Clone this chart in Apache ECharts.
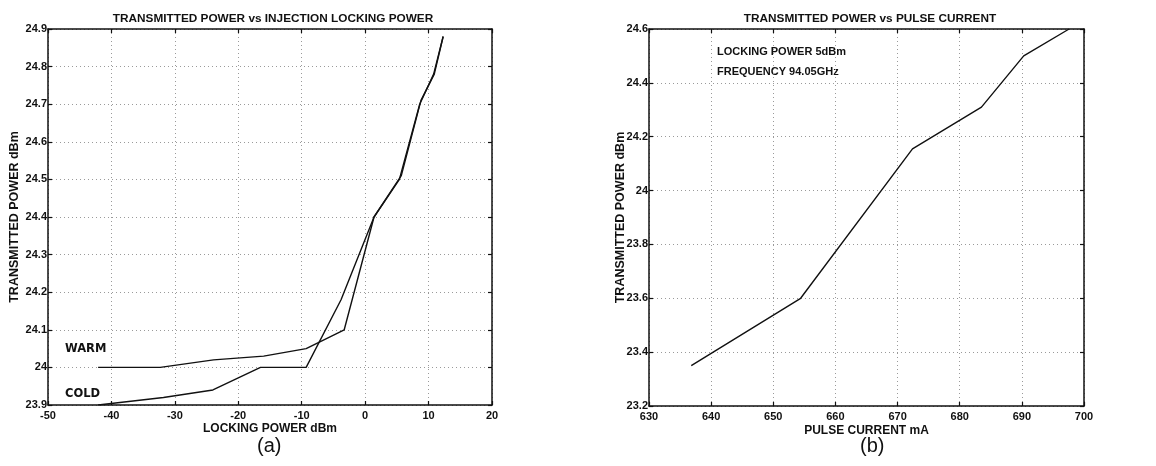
<!DOCTYPE html>
<html>
<head>
<meta charset="utf-8">
<title>Transmitted power</title>
<script src="https://cdn.jsdelivr.net/npm/echarts@6/dist/echarts.min.js"></script>
<style>
  html, body { margin: 0; padding: 0; background: #fff; }
  #chart { width: 1156px; height: 466px; }
</style>
</head>
<body>
<div id="chart"></div>
<script>
// (a) transmitted power vs injection locking power, warm and cold
const lockingPowerWarm = [-42.1, -32.3, -23.9, -16.0, -9.3, -3.3, 1.4, 5.4, 8.6, 10.8, 12.3];
const transPowerWarm   = [24.00, 24.00, 24.02, 24.03, 24.05, 24.10, 24.40, 24.50, 24.70, 24.78, 24.88];
const lockingPowerCold = [-42.1, -31.8, -24.0, -16.5, -9.3, -3.8, 1.4, 5.7, 8.8, 10.9, 12.3];
const transPowerCold   = [23.90, 23.92, 23.94, 24.00, 24.00, 24.18, 24.40, 24.51, 24.71, 24.78, 24.88];

// (b) transmitted power vs pulse current
const pulseCurrent    = [636.8, 654.4, 672.4, 683.5, 690.3, 697.6];
const transPowerPulse = [23.35, 23.60, 24.155, 24.31, 24.50, 24.60];

const titleA = 'TRANSMITTED POWER vs INJECTION LOCKING POWER';
const titleB = 'TRANSMITTED POWER vs PULSE CURRENT';
const yName = 'TRANSMITTED POWER dBm';
const xNameA = 'LOCKING POWER dBm';
const xNameB = 'PULSE CURRENT mA';
const notesB = ['LOCKING POWER 5dBm', 'FREQUENCY 94.05GHz'];
const curveNames = ['WARM', 'COLD'];
const panelNames = ['(a)', '(b)'];

const FONT = '"Liberation Sans", Arial, sans-serif';
const WIDE = '"DejaVu Sans", sans-serif';
const ink = '#111';

function zip(xs, ys) { return xs.map((x, i) => [x, ys[i]]); }

const tickLabel = (margin) => ({ color: ink, fontFamily: FONT, fontWeight: 'bold', fontSize: 11, margin });

function mainAxis(gridIndex, min, max, interval, extra) {
  return Object.assign({
    type: 'value', gridIndex, min, max, interval,
    nameMoveOverlap: false,
    axisLine: { show: true, onZero: false, lineStyle: { color: ink, width: 1.5 } },
    axisTick: { show: true, inside: true, length: 4, lineStyle: { color: ink, width: 1.2 } },
    axisLabel: tickLabel(5),
    splitLine: { show: true, lineStyle: { color: '#9a9a9a', type: [1, 3], width: 1 } },
    nameTextStyle: { color: ink, fontFamily: FONT, fontWeight: 'bold', fontSize: 12 }
  }, extra || {});
}
// unlabelled axis on the opposite side, closing the frame with inward ticks
function mirrorAxis(gridIndex, min, max, interval, position) {
  return {
    type: 'value', gridIndex, min, max, interval, position,
    axisLine: { show: true, onZero: false, lineStyle: { color: ink, width: 1.5 } },
    axisTick: { show: true, inside: true, length: 4, lineStyle: { color: ink, width: 1.2 } },
    axisLabel: { show: false },
    splitLine: { show: false }
  };
}

const lineStyle = { color: ink, width: 1.4 };
const label = (t, x, y, font) => ({
  type: 'text', left: x, top: y, silent: true,
  style: { text: t, fill: ink, font }
});

const option = {
  backgroundColor: '#fff',
  animation: false,
  title: [
    { text: titleA, left: 268, top: 8, textAlign: 'center',
      textStyle: { fontFamily: FONT, fontWeight: 'bold', fontSize: 11.8, color: ink } },
    { text: titleB, left: 865, top: 8, textAlign: 'center',
      textStyle: { fontFamily: FONT, fontWeight: 'bold', fontSize: 11.8, color: ink } }
  ],
  grid: [
    { left: 48, top: 29, width: 444, height: 376, show: false },
    { left: 649, top: 29, width: 435, height: 377, show: false }
  ],
  xAxis: [
    mainAxis(0, -50, 20, 10, { name: xNameA, nameLocation: 'middle', nameGap: 18 }),
    mirrorAxis(0, -50, 20, 10, 'top'),
    mainAxis(1, 630, 700, 10, { name: xNameB, nameLocation: 'middle', nameGap: 19 }),
    mirrorAxis(1, 630, 700, 10, 'top')
  ],
  yAxis: [
    mainAxis(0, 23.9, 24.9, 0.1, { name: yName, nameLocation: 'middle', nameGap: 27,
      axisLabel: tickLabel(1),
      nameTextStyle: { color: ink, fontFamily: FONT, fontWeight: 'bold', fontSize: 12.5 } }),
    mirrorAxis(0, 23.9, 24.9, 0.1, 'right'),
    mainAxis(1, 23.2, 24.6, 0.2, { name: yName, nameLocation: 'middle', nameGap: 22,
      axisLabel: tickLabel(1),
      nameTextStyle: { color: ink, fontFamily: FONT, fontWeight: 'bold', fontSize: 12.5 } }),
    mirrorAxis(1, 23.2, 24.6, 0.2, 'right')
  ],
  series: [
    { name: curveNames[0], type: 'line', xAxisIndex: 0, yAxisIndex: 0,
      data: zip(lockingPowerWarm, transPowerWarm), showSymbol: false, lineStyle, silent: true },
    { name: curveNames[1], type: 'line', xAxisIndex: 0, yAxisIndex: 0,
      data: zip(lockingPowerCold, transPowerCold), showSymbol: false, lineStyle, silent: true },
    { name: 'PULSE', type: 'line', xAxisIndex: 2, yAxisIndex: 2,
      data: zip(pulseCurrent, transPowerPulse), showSymbol: false, lineStyle, silent: true }
  ],
  graphic: [
    label(curveNames[0], 65, 343, `bold 11.5px ${WIDE}`),
    label(curveNames[1], 65, 388, `bold 11.5px ${WIDE}`),
    label(notesB[0], 717, 46, `bold 11px ${FONT}`),
    label(notesB[1], 717, 66, `bold 11px ${FONT}`),
    label(panelNames[0], 257, 436, `normal 20px ${FONT}`),
    label(panelNames[1], 860, 436, `normal 20px ${FONT}`)
  ]
};

const chart = echarts.init(document.getElementById('chart'));
chart.setOption(option);
</script>
</body>
</html>
